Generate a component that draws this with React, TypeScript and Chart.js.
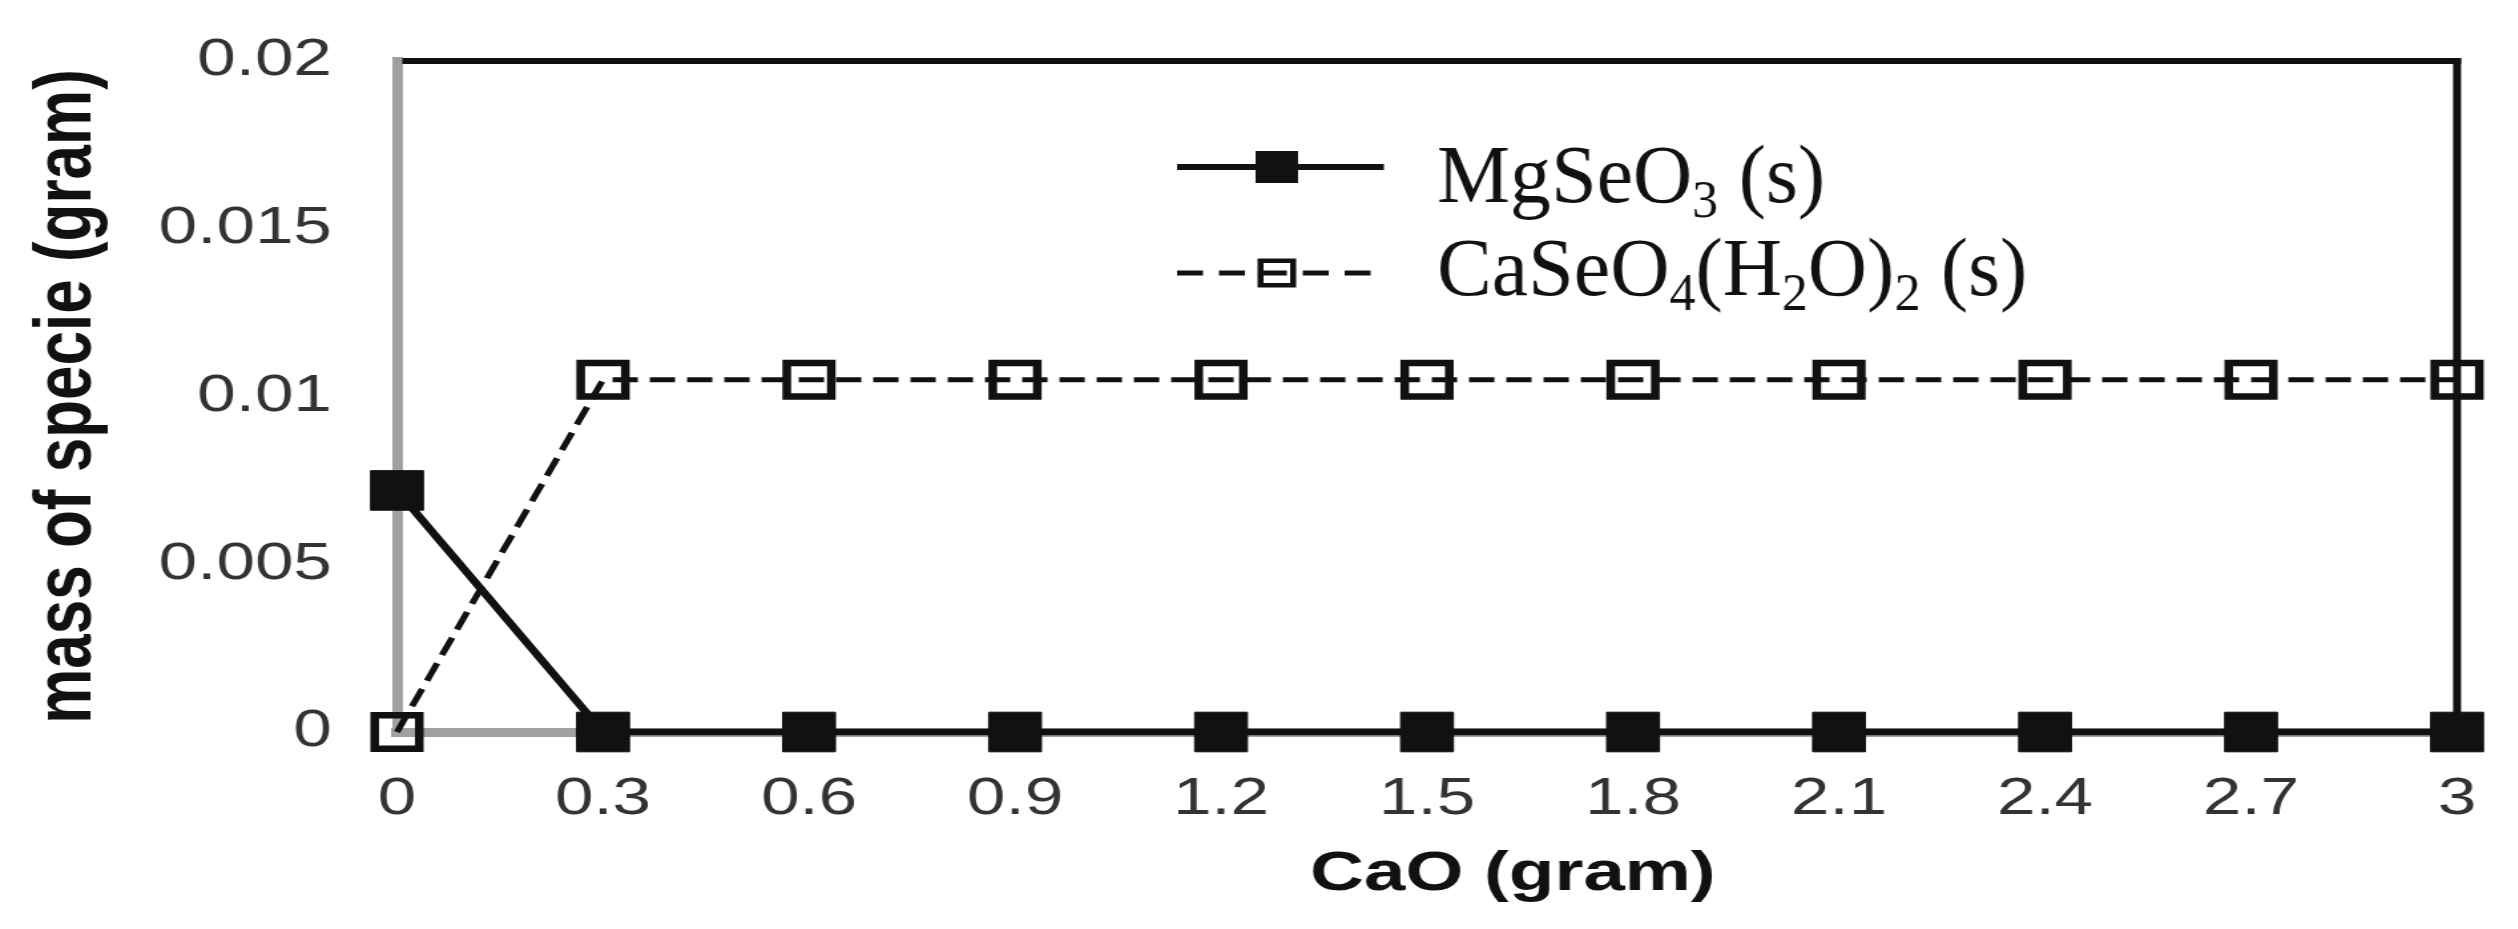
import React, { useEffect, useRef } from 'react';
import { Chart, registerables } from 'chart.js';

Chart.register(...registerables);

// ---------- data ----------
const caoLabels = ['0', '0.3', '0.6', '0.9', '1.2', '1.5', '1.8', '2.1', '2.4', '2.7', '3'];
const mgSeO3 = [0.0072, 0, 0, 0, 0, 0, 0, 0, 0, 0, 0];
const caSeO4H2O2 = [0, 0.0105, 0.0105, 0.0105, 0.0105, 0.0105, 0.0105, 0.0105, 0.0105, 0.0105, 0.0105];
const yTickLabels = ['0', '0.005', '0.01', '0.015', '0.02'];
const yMin = 0;
const yMax = 0.02;
const yStep = 0.005;
const xTitle = 'CaO (gram)';
const yTitle = 'mass of specie (gram)';
// legend text pieces: [text, isSubscript]
const legendMg: [string, boolean][] = [['MgSeO', false], ['3', true], [' (s)', false]];
const legendCa: [string, boolean][] = [
  ['CaSeO', false], ['4', true], ['(H', false], ['2', true], ['O)', false], ['2', true], [' (s)', false],
];

// ---------- layout ----------
const STRETCH = 1.33;
const CANVAS_W = 1893;
const CANVAS_H = 929;
const GRAY = '#a0a0a0';
const INK = '#111111';
const TICK_COLOR = '#333333';

function makeFramePlugin() {
  return {
    id: 'frameAndLegend',
    beforeDatasetsDraw(chart: any) {
      const { ctx, chartArea: a } = chart;
      ctx.save();
      ctx.strokeStyle = INK;
      ctx.lineWidth = 6;
      ctx.setLineDash([]);
      ctx.beginPath();
      ctx.moveTo(a.left + 4, a.top);
      ctx.lineTo(a.right + 3, a.top);
      ctx.stroke();
      ctx.beginPath();
      ctx.moveTo(a.right, a.top - 3);
      ctx.lineTo(a.right, a.bottom);
      ctx.stroke();
      ctx.restore();
    },
    afterDraw(chart: any) {
      const { ctx, chartArea: a } = chart;
      ctx.save();
      // x axis title
      ctx.font = 'bold 56px "Liberation Sans", Arial, sans-serif';
      ctx.fillStyle = INK;
      ctx.textAlign = 'center';
      ctx.textBaseline = 'alphabetic';
      ctx.fillText(xTitle, a.left + 0.5417 * (a.right - a.left), 890);

      // legend samples
      const L0 = a.left + 586.5;
      const L1 = a.left + 742;
      const cx = a.left + 661.5;
      const row1 = a.top + 106;
      const row2 = a.top + 212;
      ctx.strokeStyle = INK;
      ctx.fillStyle = INK;
      ctx.lineWidth = 6;
      ctx.setLineDash([]);
      ctx.beginPath();
      ctx.moveTo(L0, row1);
      ctx.lineTo(L1, row1);
      ctx.stroke();
      ctx.fillRect(cx - 16, row1 - 16, 32, 32);

      ctx.lineWidth = 5;
      ctx.setLineDash([19.5, 12]);
      ctx.beginPath();
      ctx.moveTo(L0, row2);
      ctx.lineTo(L1, row2);
      ctx.stroke();
      ctx.setLineDash([]);
      ctx.lineWidth = 4.5;
      ctx.strokeRect(cx - 12.25, row2 - 12.25, 24.5, 24.5);

      // legend text (drawn un-stretched)
      ctx.scale(1 / STRETCH, 1);
      ctx.textAlign = 'left';
      const drawParts = (parts: [string, boolean][], xInt: number, base: number) => {
        let x = xInt * STRETCH;
        for (const [t, sub] of parts) {
          ctx.font = sub ? '52px "Liberation Serif", serif' : '82px "Liberation Serif", serif';
          ctx.fillText(t, x, sub ? base + 15 : base);
          x += ctx.measureText(t).width;
        }
      };
      ctx.fillStyle = INK;
      drawParts(legendMg, a.left + 782, a.top + 141);
      drawParts(legendCa, a.left + 782, a.top + 234);
      ctx.restore();
    },
  };
}

export default function App() {
  const canvasRef = useRef<HTMLCanvasElement | null>(null);

  useEffect(() => {
    const canvas = canvasRef.current;
    if (!canvas) return;
    const chart = new Chart(canvas, {
      type: 'line',
      data: {
        labels: caoLabels,
        datasets: [
          {
            label: 'MgSeO3 (s)',
            data: mgSeO3,
            borderColor: INK,
            borderWidth: 6.5,
            pointStyle: 'rect',
            pointRadius: 28,
            pointBorderWidth: 1,
            pointBackgroundColor: INK,
            pointBorderColor: INK,
            tension: 0,
            fill: false,
            clip: false,
          },
          {
            label: 'CaSeO4(H2O)2 (s)',
            data: caSeO4H2O2,
            borderColor: INK,
            borderWidth: 5,
            borderDash: [19, 9],
            pointStyle: 'rect',
            pointRadius: 23.7,
            pointBorderWidth: 6.5,
            pointBackgroundColor: 'rgba(0,0,0,0)',
            pointBorderColor: INK,
            tension: 0,
            fill: false,
            clip: false,
          },
        ],
      },
      options: {
        responsive: false,
        animation: false,
        events: [],
        devicePixelRatio: 1,
        layout: { padding: { left: 0, right: CANVAS_W - 1847.4, top: 61, bottom: 0 } },
        plugins: {
          legend: { display: false },
          tooltip: { enabled: false },
          title: { display: false },
        },
        scales: {
          x: {
            type: 'category',
            offset: false,
            grid: { display: false, drawTicks: false },
            border: { display: true, color: GRAY, width: 9 },
            ticks: {
              autoSkip: false,
              maxRotation: 0,
              padding: 36,
              color: TICK_COLOR,
              font: { family: '"Liberation Sans", Arial, sans-serif', size: 52 },
            },
            afterFit: (s: any) => {
              s.height = 197;
              s.paddingLeft = 0;
              s.paddingRight = 0;
            },
          },
          y: {
            type: 'linear',
            min: yMin,
            max: yMax,
            grid: { display: false, drawTicks: false },
            border: { display: true, color: GRAY, width: 8 },
            ticks: {
              stepSize: yStep,
              padding: 49,
              color: TICK_COLOR,
              font: { family: '"Liberation Sans", Arial, sans-serif', size: 52 },
              callback: (_v: any, i: number) => yTickLabels[i] ?? '',
            },
            title: {
              display: true,
              text: yTitle,
              color: INK,
              font: { family: '"Liberation Sans", Arial, sans-serif', size: 62, weight: 'bold' },
              padding: { top: 14, bottom: 0 },
            },
            afterFit: (s: any) => {
              s.width = 298.5;
              s.paddingTop = 0;
              s.paddingBottom = 0;
            },
          },
        },
      } as any,
      plugins: [makeFramePlugin() as any],
    });
    return () => chart.destroy();
  }, []);

  return (
    <div
      style={{
        position: 'fixed',
        left: 0,
        top: 0,
        width: 2518,
        height: 929,
        overflow: 'hidden',
        background: '#ffffff',
      }}
    >
      <div
        style={{
          transform: `scaleX(${STRETCH})`,
          transformOrigin: '0 0',
          width: CANVAS_W,
          height: CANVAS_H,
        }}
      >
        <canvas
          ref={canvasRef}
          width={CANVAS_W}
          height={CANVAS_H}
          style={{ display: 'block', width: CANVAS_W, height: CANVAS_H }}
        />
      </div>
    </div>
  );
}
